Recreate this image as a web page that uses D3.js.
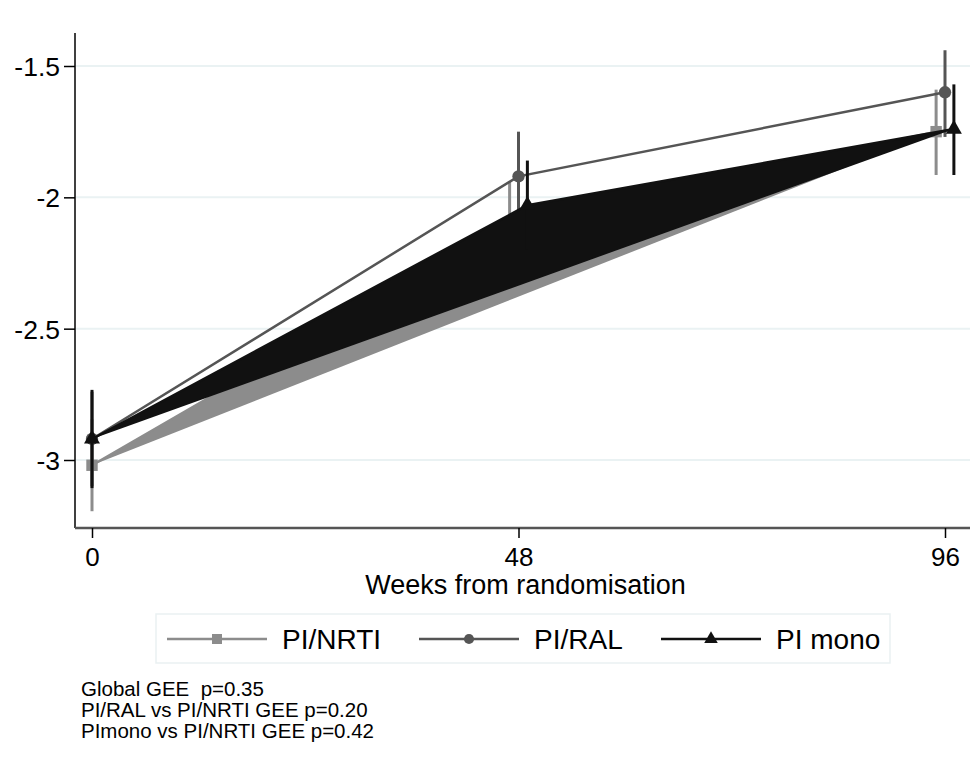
<!DOCTYPE html>
<html>
<head>
<meta charset="utf-8">
<script src="https://cdn.jsdelivr.net/npm/d3@7"></script>
<style>
  body { margin: 0; background: #fff; }
  text { font-family: Arial, "Liberation Sans", sans-serif; fill: #000; }
</style>
</head>
<body>
<svg id="chart" width="980" height="769"></svg>
<script>
// weeks, with the small dodge used in the original figure
const nrtiWeeks = [0, 47, 95];
const ralWeeks = [0, 48, 96];
const monoWeeks = [0, 49, 97];

const nrtiMean = [-3.02, -2.10, -1.75];
const nrtiLo = [-3.195, -2.27, -1.915];
const nrtiHi = [-2.845, -1.94, -1.59];

const ralMean = [-2.92, -1.92, -1.60];
const ralLo = [-3.10, -2.09, -1.77];
const ralHi = [-2.74, -1.75, -1.44];

const monoMean = [-2.92, -2.03, -1.74];
const monoLo = [-3.107, -2.20, -1.915];
const monoHi = [-2.733, -1.86, -1.57];

const xTicks = [0, 48, 96];
const yTicks = [-1.5, -2, -2.5, -3];
const yTickLabels = ['-1.5', '-2', '-2.5', '-3'];
const legendLabels = ['PI/NRTI', 'PI/RAL', 'PI mono'];
const notes = ['Global GEE  p=0.35', 'PI/RAL vs PI/NRTI GEE p=0.20', 'PImono vs PI/NRTI GEE p=0.42'];

const colNrti = '#8c8c8c';
const colRal = '#555555';
const colMono = '#111111';

const svg = d3.select('#chart');

const plot = { left: 75, right: 970, top: 33, bottom: 528 };

const x = d3.scaleLinear().domain([0, 96]).range([92, 945]);
const y = d3.scaleLinear().domain([-3, -1.5]).range([460, 66]);

// gridlines
svg.append('g')
    .selectAll('line')
    .data(yTicks)
    .join('line')
    .attr('x1', plot.left + 1)
    .attr('x2', plot.right)
    .attr('y1', d => y(d))
    .attr('y2', d => y(d))
    .attr('stroke', '#eaf2f3')
    .attr('stroke-width', 2);

// y axis
const yAxis = svg.append('g')
    .attr('transform', `translate(${plot.left},0)`)
    .call(d3.axisLeft(y).tickValues(yTicks).tickFormat((d, i) => yTickLabels[i]).tickSize(11).tickPadding(4));
yAxis.select('.domain').attr('d', `M0,${plot.top}V${plot.bottom}`).attr('stroke', '#000').attr('stroke-width', 1.5);
yAxis.selectAll('.tick line').attr('stroke', '#000').attr('stroke-width', 1.5);
yAxis.selectAll('.tick text').attr('font-size', 26.5).attr('dy', '0.36em')
    .style('font-family', 'Arial, "Liberation Sans", sans-serif');

// x axis
const xAxis = svg.append('g')
    .attr('transform', `translate(0,${plot.bottom})`)
    .call(d3.axisBottom(x).tickValues(xTicks).tickFormat(d3.format('d')).tickSize(10).tickPadding(10));
xAxis.select('.domain').attr('d', `M${plot.left},0H${plot.right}`).attr('stroke', '#555').attr('stroke-width', 2.5);
xAxis.selectAll('.tick line').attr('stroke', '#000').attr('stroke-width', 1.5);
xAxis.selectAll('.tick text').attr('font-size', 26)
    .style('font-family', 'Arial, "Liberation Sans", sans-serif');

svg.append('text')
    .attr('x', (plot.left + plot.right) / 2 + 3)
    .attr('y', 594)
    .attr('text-anchor', 'middle')
    .attr('font-size', 27)
    .text('Weeks from randomisation');

const line = d3.line().x(d => x(d.w)).y(d => y(d.m));

function series(weeks, mean, lo, hi) {
    return weeks.map((w, i) => ({ w, m: mean[i], lo: lo[i], hi: hi[i] }));
}

const nrti = series(nrtiWeeks, nrtiMean, nrtiLo, nrtiHi);
const ral = series(ralWeeks, ralMean, ralLo, ralHi);
const mono = series(monoWeeks, monoMean, monoLo, monoHi);

function drawCI(data, color) {
    svg.append('g')
        .selectAll('line')
        .data(data)
        .join('line')
        .attr('x1', d => x(d.w))
        .attr('x2', d => x(d.w))
        .attr('y1', d => y(d.lo))
        .attr('y2', d => y(d.hi))
        .attr('stroke', color)
        .attr('stroke-width', 3);
}

const square = d3.symbol().type(d3.symbolSquare).size(130);
const circle = d3.symbol().type(d3.symbolCircle).size(120);
const triangle = d3.symbol().type(d3.symbolTriangle).size(110);

function drawMarks(data, sym, color) {
    svg.append('g')
        .selectAll('path')
        .data(data)
        .join('path')
        .attr('d', sym)
        .attr('transform', d => `translate(${x(d.w)},${y(d.m)})`)
        .attr('fill', color);
}

// PI/NRTI (drawn filled, as in the source figure)
svg.append('path')
    .datum(nrti)
    .attr('d', line)
    .attr('fill', colNrti)
    .attr('stroke', colNrti)
    .attr('stroke-width', 2.5)
    .attr('stroke-linejoin', 'round');
drawCI(nrti, colNrti);
drawMarks(nrti, square, colNrti);

// PI/RAL
svg.append('path')
    .datum(ral)
    .attr('d', line)
    .attr('fill', 'none')
    .attr('stroke', colRal)
    .attr('stroke-width', 2.5);
drawCI(ral, colRal);
drawMarks(ral, circle, colRal);

// PI mono (filled)
svg.append('path')
    .datum(mono)
    .attr('d', line)
    .attr('fill', colMono)
    .attr('stroke', colMono)
    .attr('stroke-width', 2.5)
    .attr('stroke-linejoin', 'round');
drawCI(mono, colMono);
drawMarks(mono, triangle, colMono);

// legend
const legend = svg.append('g');
legend.append('rect')
    .attr('x', 156).attr('y', 614)
    .attr('width', 734).attr('height', 49)
    .attr('fill', '#fff')
    .attr('stroke', '#eaf1f2')
    .attr('stroke-width', 1.5);

const legendX = [167, 419, 661];
const legendCols = [colNrti, colRal, colMono];
const legendSyms = [
    d3.symbol().type(d3.symbolSquare).size(100),
    d3.symbol().type(d3.symbolCircle).size(80),
    d3.symbol().type(d3.symbolTriangle).size(80)
];
const legendY = 639;

legendLabels.forEach((lab, i) => {
    const g = legend.append('g').attr('transform', `translate(${legendX[i]},${legendY})`);
    g.append('line')
        .attr('x1', 0).attr('x2', 100)
        .attr('stroke', legendCols[i])
        .attr('stroke-width', 2.5);
    g.append('path')
        .attr('d', legendSyms[i]())
        .attr('transform', 'translate(50,0)')
        .attr('fill', legendCols[i]);
    g.append('text')
        .attr('x', 115)
        .attr('y', 0)
        .attr('dy', '0.36em')
        .attr('font-size', 28)
        .text(lab);
});

// notes
svg.append('g')
    .selectAll('text')
    .data(notes)
    .join('text')
    .attr('x', 81)
    .attr('y', (d, i) => 696 + i * 21)
    .attr('font-size', 20.5)
    .style('white-space', 'pre')
    .text(d => d);
</script>
</body>
</html>
